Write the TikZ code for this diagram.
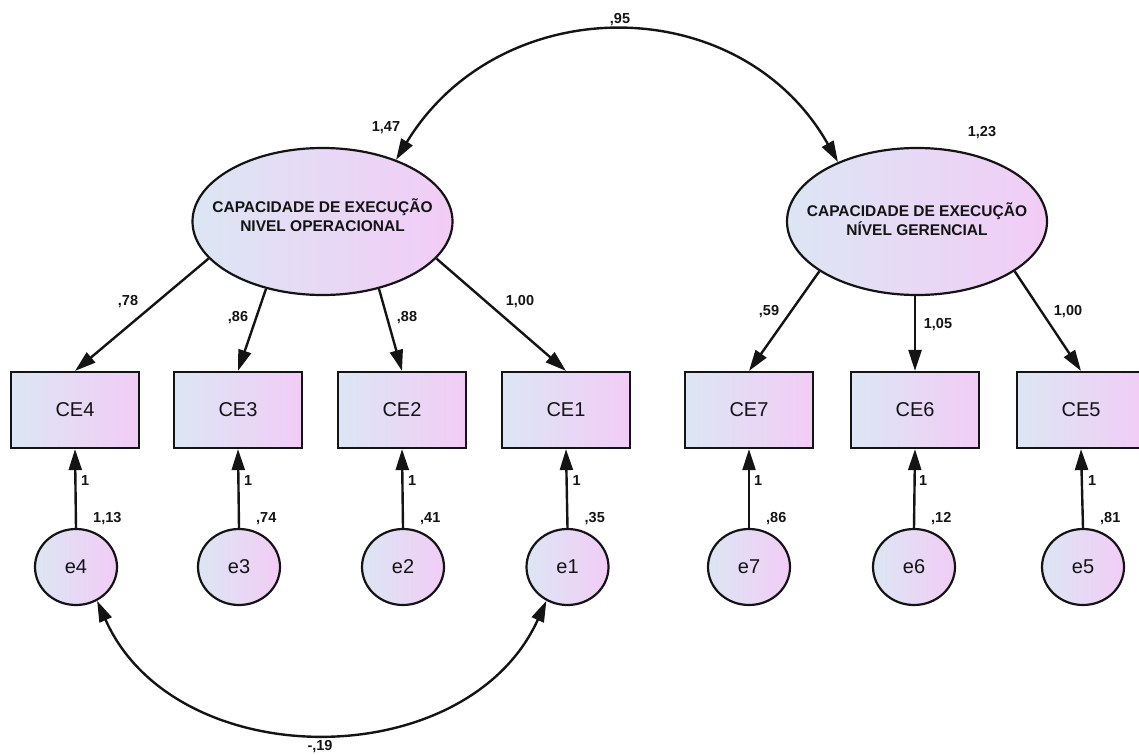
\documentclass[tikz,border=0pt]{standalone}
\usepackage{fontspec}
\setmainfont{Liberation Sans}
\usetikzlibrary{arrows.meta,shapes.geometric}
\definecolor{gL}{RGB}{220,230,244}
\definecolor{gR}{RGB}{242,204,246}
\definecolor{ink}{RGB}{20,20,20}
\begin{document}
\begin{tikzpicture}[x=1pt,y=-1pt,
  grad/.style={left color=gL,right color=gR},
  obs/.style={draw=ink,line width=2.2pt,grad,minimum width=128pt,minimum height=76pt,inner sep=0pt,font=\fontsize{20}{24}\selectfont,text=ink},
  err/.style={ellipse,draw=ink,line width=2.2pt,grad,minimum width=82pt,minimum height=76pt,inner sep=0pt,font=\fontsize{20}{24}\selectfont,text=ink},
  lat/.style={ellipse,draw=ink,line width=2.2pt,grad,minimum width=260pt,minimum height=147pt,inner sep=0pt},
  lattext/.style={align=center,font=\fontsize{15.5}{19}\selectfont\bfseries,inner sep=0pt,text=ink},
  lab/.style={font=\fontsize{14.5}{18}\selectfont\bfseries,inner sep=0pt,text=ink},
  arr/.style={draw=ink,line width=2.4pt,-{Triangle[length=21pt,width=13pt]}},
  dbl/.style={draw=ink,line width=2.4pt,{Triangle[length=21pt,width=13pt]}-{Triangle[length=21pt,width=13pt]}}]
\useasboundingbox (0,0) rectangle (1139,754);

% latent variables
\node[lat] (L) at (322.5,221.5) {};
\node[lattext] (Ltx) at (322.5,215) {CAPACIDADE DE EXECUÇÃO\\NIVEL OPERACIONAL};
\node[lat] (R) at (917,221.5) {};
\node[lattext] (Rtx) at (917,219) {CAPACIDADE DE EXECUÇÃO\\NÍVEL GERENCIAL};

% observed variables
\node[obs] (CE4) at (75,410) {CE4};
\node[obs] (CE3) at (238,410) {CE3};
\node[obs] (CE2) at (402,410) {CE2};
\node[obs] (CE1) at (566,410) {CE1};
\node[obs] (CE7) at (749,410) {CE7};
\node[obs] (CE6) at (915,410) {CE6};
\node[obs] (CE5) at (1081,410) {CE5};

% errors
\node[err] (e4) at (76,567) {e4};
\node[err] (e3) at (239,567) {e3};
\node[err] (e2) at (403,567) {e2};
\node[err] (e1) at (567.5,567) {e1};
\node[err] (e7) at (749,567) {e7};
\node[err] (e6) at (914,567) {e6};
\node[err] (e5) at (1083,567) {e5};

% loadings
\draw[arr] (L.198) -- (CE4.north);
\draw[arr] (L.230) -- (CE3.north);
\draw[arr] (L.310) -- (CE2.north);
\draw[arr] (L.342) -- (CE1.north);
\draw[arr] (R.207) -- (CE7.north);
\draw[arr] (CE6.north |- R.south) -- (CE6.north);
\draw[arr] (R.333) -- (CE5.north);

% error paths
\foreach \e/\c in {e4/CE4,e3/CE3,e2/CE2,e1/CE1,e7/CE7,e6/CE6,e5/CE5}{
  \draw[arr] (\e.north) -- (\c.south);
}

% covariances
\draw[dbl] (L.40) .. controls (500,-11) and (740,-11) .. (R.143);
\draw[dbl] (e4.-58) .. controls (175,776) and (467,776) .. (e1.-122);

% labels
\node[lab] (l95) at (620,20) {,95};
\node[lab] (l147) at (386,128) {1,47};
\node[lab] (l123) at (982,133) {1,23};
\node[lab] (l78) at (128,302) {,78};
\node[lab] (l86) at (238,318) {,86};
\node[lab] (l88) at (407,318) {,88};
\node[lab] (l100a) at (520,302) {1,00};
\node[lab] (l59) at (769,312) {,59};
\node[lab] (l105) at (938,325) {1,05};
\node[lab] (l100b) at (1068,312) {1,00};
\node[lab] (l19) at (320,747) {-,19};

\foreach \e/\v in {e4/{1,13},e3/{,74},e2/{,41},e1/{,35},e7/{,86},e6/{,12},e5/{,81}}{
  \node[lab,anchor=west] (one\e) at ([xshift=5pt]\e.north |- 0,481) {1};
  \node[lab,anchor=west] (var\e) at ([xshift=17pt]\e.north |- 0,519) {\v};
}
\end{tikzpicture}
\end{document}
